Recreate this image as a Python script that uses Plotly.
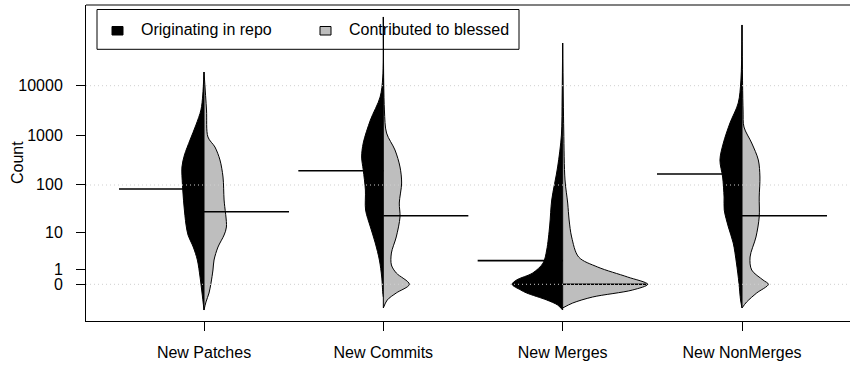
import numpy as np
import plotly.graph_objects as go

# Categories on the x axis
categories = ["New Patches", "New Commits", "New Merges", "New NonMerges"]
group_names = ["Originating in repo", "Contributed to blessed"]

# y values are on the log10(Count + 1) scale
tick_counts = [0, 1, 10, 100, 1000, 10000]
tick_labels = ["0", "1", "10", "100", "1000", "10000"]
grid_levels = [0, 2, 4]

# Group means (counts) shown as horizontal bean lines
mean_orig = [82, 193, 2, 166]
mean_blessed = [28, 23, 0, 23]

# Density outlines: levels (log10(Count+1)) and half-widths (x units)
patches_orig_t = [4.276, 3.813, 3.511, 3.208, 2.906, 2.604, 2.363, 2.000, 1.597, 1.194, 0.993, 0.751, 0.489, 0.147, -0.175, -0.518]
patches_orig_w = [0, 0.007, 0.017, 0.045, 0.078, 0.109, 0.123, 0.120, 0.112, 0.100, 0.089, 0.060, 0.037, 0.022, 0.011, 0]
patches_bless_t = [4.276, 3.511, 2.967, 2.765, 2.504, 2.161, 1.698, 1.154, 0.993, 0.751, 0.489, 0.288, 0.026, -0.175, -0.356, -0.518]
patches_bless_w = [0, 0.014, 0.022, 0.061, 0.089, 0.106, 0.112, 0.125, 0.112, 0.078, 0.056, 0.050, 0.039, 0.028, 0.011, 0]

commits_orig_t = [5.384, 4.175, 3.772, 3.309, 2.846, 2.564, 2.302, 1.899, 1.496, 1.154, 0.832, 0.489, 0.147, -0.175, -0.256]
commits_orig_w = [0, 0.003, 0.018, 0.072, 0.112, 0.121, 0.112, 0.100, 0.099, 0.072, 0.045, 0.022, 0.009, 0.003, 0]
commits_bless_t = [5.384, 3.511, 3.047, 2.705, 2.363, 2.040, 1.637, 1.356, 0.953, 0.630, 0.389, 0.228, 0.0, -0.175, -0.316, -0.477]
commits_bless_w = [0, 0.006, 0.018, 0.065, 0.093, 0.102, 0.089, 0.093, 0.072, 0.045, 0.045, 0.072, 0.145, 0.072, 0.022, 0]

merges_orig_t = [4.860, 3.772, 3.007, 2.363, 1.698, 1.194, 0.691, 0.429, 0.228, 0.087, 0.0, -0.115, -0.175, -0.316, -0.417, -0.518]
merges_orig_w = [0, 0.003, 0.007, 0.028, 0.061, 0.072, 0.089, 0.109, 0.167, 0.257, 0.282, 0.234, 0.201, 0.089, 0.028, 0]
merges_bless_t = [4.860, 3.108, 2.101, 1.637, 1.295, 0.953, 0.550, 0.348, 0.147, 0.0, -0.115, -0.256, -0.377, -0.477]
merges_bless_w = [0, 0.006, 0.013, 0.028, 0.036, 0.050, 0.089, 0.195, 0.362, 0.474, 0.390, 0.167, 0.056, 0]

nonmerges_orig_t = [5.223, 4.115, 3.652, 3.249, 2.846, 2.504, 2.161, 1.758, 1.496, 1.154, 0.832, 0.429, 0.026, -0.316, -0.477]
nonmerges_orig_w = [0, 0.006, 0.021, 0.067, 0.104, 0.123, 0.108, 0.100, 0.099, 0.076, 0.049, 0.031, 0.017, 0.008, 0]
nonmerges_bless_t = [5.223, 3.511, 3.168, 2.846, 2.504, 2.161, 1.758, 1.356, 0.953, 0.550, 0.288, 0.087, 0.0, -0.175, -0.356, -0.477]
nonmerges_bless_w = [0, 0.006, 0.011, 0.054, 0.091, 0.100, 0.096, 0.096, 0.078, 0.045, 0.054, 0.117, 0.147, 0.082, 0.026, 0]

orig_t = [patches_orig_t, commits_orig_t, merges_orig_t, nonmerges_orig_t]
orig_w = [patches_orig_w, commits_orig_w, merges_orig_w, nonmerges_orig_w]
bless_t = [patches_bless_t, commits_bless_t, merges_bless_t, nonmerges_bless_t]
bless_w = [patches_bless_w, commits_bless_w, merges_bless_w, nonmerges_bless_w]

ORIG_COLOR = "#000000"
BLESS_COLOR = "#BEBEBE"
FONT = "Liberation Sans, Arial, Helvetica, sans-serif"
BEANLINE = 0.474

W, H = 850, 365
ML, MR, MT, MB = 86, 0, 5, 44
PW, PH = W - ML - MR, H - MT - MB


def pxx(px):
    return (px - ML) / PW


def pxy(py):
    return (H - MB - py) / PH


def tr(v):
    return np.log10(np.asarray(v, dtype=float) + 1)


fig = go.Figure()

for i, cat in enumerate(categories):
    c = i + 1
    for t, w, sign, color in ((orig_t[i], orig_w[i], -1, ORIG_COLOR),
                              (bless_t[i], bless_w[i], 1, BLESS_COLOR)):
        fig.add_trace(go.Scatter(
            x=c + sign * np.asarray(w), y=t, mode="lines",
            line=dict(color="black", width=1, shape="spline", smoothing=0.9),
            fill="toself", fillcolor=color, hoverinfo="skip", showlegend=False))
    top = max(orig_t[i][0], bless_t[i][0])
    bot = min(orig_t[i][-1], bless_t[i][-1])
    fig.add_trace(go.Scatter(x=[c, c], y=[top, bot], mode="lines",
                             line=dict(color="black", width=1),
                             hoverinfo="skip", showlegend=False))
    mo = float(tr(mean_orig[i]))
    mb = float(tr(mean_blessed[i]))
    fig.add_trace(go.Scatter(x=[c - BEANLINE, c], y=[mo, mo], mode="lines",
                             line=dict(color="black", width=1.6),
                             hoverinfo="skip", showlegend=False))
    fig.add_trace(go.Scatter(x=[c, c + BEANLINE], y=[mb, mb], mode="lines",
                             line=dict(color="black", width=1.6),
                             hoverinfo="skip", showlegend=False))

shapes = []
# dotted grid drawn over the beans
for g in grid_levels:
    shapes.append(dict(type="line", xref="paper", yref="y", x0=0, x1=1, y0=g, y1=g,
                       line=dict(color="#CFCFCF", width=1, dash="1px,3px"), layer="above"))
# top edge of the frame
shapes.append(dict(type="line", xref="paper", yref="paper", x0=0, x1=1, y0=1, y1=1,
                   line=dict(color="#808080", width=2), layer="above"))
# legend box and swatches
shapes.append(dict(type="rect", xref="paper", yref="paper",
                   x0=pxx(97), x1=pxx(519), y0=pxy(49.3), y1=pxy(9.5),
                   line=dict(color="black", width=1), fillcolor="white", layer="below"))
shapes.append(dict(type="rect", xref="paper", yref="paper",
                   x0=pxx(112), x1=pxx(123), y0=pxy(35), y1=pxy(26.5),
                   line=dict(color="black", width=1), fillcolor=ORIG_COLOR, layer="below"))
shapes.append(dict(type="rect", xref="paper", yref="paper",
                   x0=pxx(320), x1=pxx(331), y0=pxy(35), y1=pxy(26.5),
                   line=dict(color="black", width=1), fillcolor=BLESS_COLOR, layer="below"))

annotations = [
    dict(text=group_names[0], xref="paper", yref="paper", x=pxx(139), y=pxy(30),
         xanchor="left", yanchor="middle", showarrow=False,
         font=dict(family=FONT, size=16, color="black")),
    dict(text=group_names[1], xref="paper", yref="paper", x=pxx(346.5), y=pxy(30),
         xanchor="left", yanchor="middle", showarrow=False,
         font=dict(family=FONT, size=16, color="black")),
    dict(text="Count", xref="paper", yref="paper", x=pxx(17), y=pxy(163),
         xanchor="center", yanchor="middle", textangle=-90, showarrow=False,
         font=dict(family=FONT, size=16, color="black")),
]

fig.update_layout(
    width=W, height=H,
    margin=dict(l=ML, r=MR, t=MT, b=MB, pad=0),
    paper_bgcolor="white", plot_bgcolor="white",
    font=dict(family=FONT, size=16, color="black"),
    showlegend=False,
    shapes=shapes, annotations=annotations,
    xaxis=dict(range=[1 - (204 - ML) / 179.33, 4 + (W - 742) / 179.33],
               tickvals=[1, 2, 3, 4], ticktext=categories,
               showgrid=False, zeroline=False, showline=True,
               linecolor="black", linewidth=1,
               ticks="outside", ticklen=9, tickcolor="black", tickwidth=1,
               ticklabelstandoff=8, fixedrange=True),
    yaxis=dict(range=[(284.3 - 321) / 49.65, (284.3 - 5) / 49.65],
               tickvals=tr(tick_counts).tolist(), ticktext=tick_labels,
               showgrid=False, zeroline=False, showline=True,
               linecolor="black", linewidth=1,
               ticks="outside", ticklen=9, tickcolor="black", tickwidth=1,
               ticklabelstandoff=10, fixedrange=True),
)

fig.write_html("out.html")
